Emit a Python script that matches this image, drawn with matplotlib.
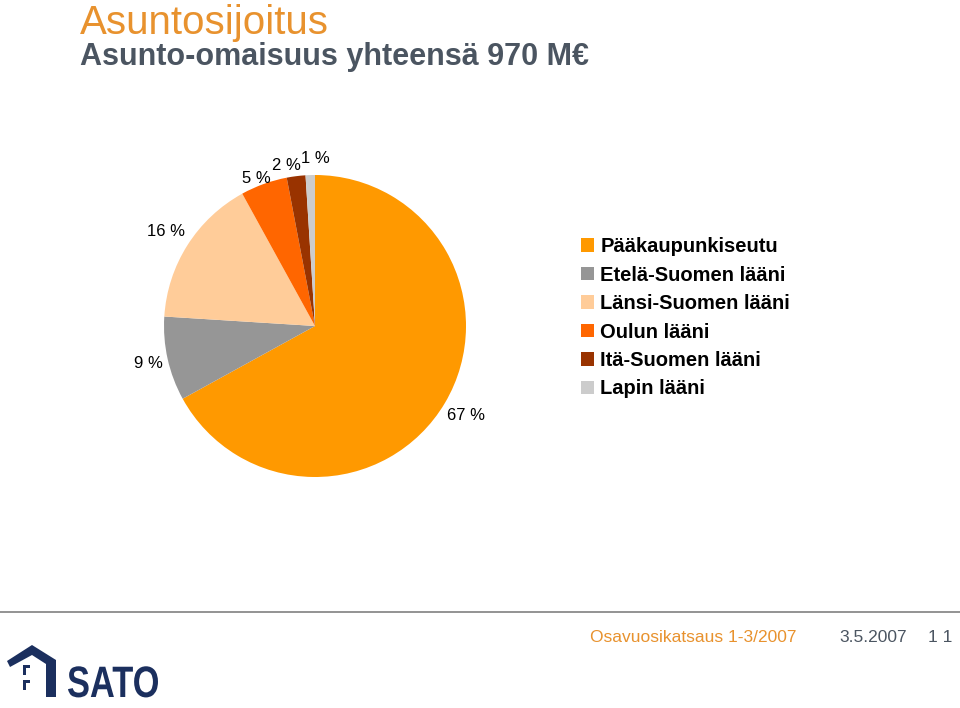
import numpy as np
import matplotlib
matplotlib.use("Agg")
import matplotlib.pyplot as plt
from matplotlib.patches import Patch, Polygon, Rectangle, PathPatch
from matplotlib.textpath import TextPath
from matplotlib.font_manager import FontProperties
from matplotlib.transforms import Affine2D

plt.rcParams['font.family'] = ['Liberation Sans', 'DejaVu Sans']

# ---- data ----
regions = ["Pääkaupunkiseutu", "Etelä-Suomen lääni", "Länsi-Suomen lääni",
           "Oulun lääni", "Itä-Suomen lääni", "Lapin lääni"]
shares = [67, 9, 16, 5, 2, 1]
colors = ["#FF9900", "#969696", "#FFCC99", "#FF6600", "#993300", "#CCCCCC"]
pct_labels = [f"{v} %" for v in shares]

NAVY = "#1b2f5e"
ORANGE_TXT = "#E8922E"
SLATE = "#4b5561"

W, H = 960, 708
fig = plt.figure(figsize=(W / 100, H / 100), dpi=100)

# ---- pie ----
cx, cy, r = 315, 326, 151
ax = fig.add_axes([(cx - r) / W, (H - cy - r) / H, 2 * r / W, 2 * r / H])
wedges, texts = ax.pie(shares, colors=colors, labels=pct_labels, startangle=90,
                       counterclock=False, labeldistance=1.15,
                       textprops=dict(fontsize=12, color="black"))
# label placement tweaks (distance, angle shift in degrees) like the original
label_dist = [1.16, 1.13, 1.17, 1.05, 1.08, 1.11]
label_dang = [0, 0, 0, 2, 3, -2]
for w, t, d, da in zip(wedges, texts, label_dist, label_dang):
    th = np.deg2rad((w.theta1 + w.theta2) / 2 + da)
    t.set_position((d * np.cos(th), d * np.sin(th)))
    t.set_ha("center")
    t.set_va("center")
ax.set_xlim(-1, 1)
ax.set_ylim(-1, 1)
ax.set_aspect("equal")
ax.axis("off")

# ---- legend ----
handles = [Patch(facecolor=c, edgecolor="none") for c in colors]
leg = fig.legend(handles, regions, loc="upper left",
                 bbox_to_anchor=(563 / W, 1 - 219 / H), frameon=False,
                 prop=dict(size=14.5, weight="bold"), handlelength=0.65,
                 handleheight=0.65, handletextpad=0.3, labelspacing=0.47)

# ---- titles ----
fig.text(80 / W, 1 - 34 / H, "Asuntosijoitus", fontsize=29, color=ORANGE_TXT,
         ha="left", va="baseline")
fig.text(80 / W, 1 - 65 / H, "Asunto-omaisuus yhteensä 970 M€", fontsize=22,
         weight="bold", color=SLATE, ha="left", va="baseline")

# ---- footer ----
fig.add_artist(plt.Line2D([0, 1], [1 - 612 / H, 1 - 612 / H], color="#808080",
                          lw=1.2, transform=fig.transFigure))
fig.text(797 / W, 1 - 637 / H, "Osavuosikatsaus 1-3/2007", fontsize=12.5,
         color=ORANGE_TXT, ha="right", va="center")
fig.text(907 / W, 1 - 637 / H, "3.5.2007", fontsize=12.5, color=SLATE,
         ha="right", va="center")
fig.text(952 / W, 1 - 637 / H, "1 1", fontsize=12.5, color=SLATE,
         ha="right", va="center")

# ---- logo ----
def px(x, y):
    return (x / W, 1 - y / H)

roof = [px(7, 661), px(32, 645), px(56, 660), px(56, 697), px(46, 697),
        px(46, 664), px(32, 655), px(10, 667)]
fig.add_artist(Polygon(roof, closed=True, facecolor=NAVY, edgecolor="none",
                       transform=fig.transFigure))
for y0 in (665, 680):
    fig.add_artist(Rectangle(px(23, y0 + 10), 3 / W, 10 / H, facecolor=NAVY,
                             edgecolor="none", transform=fig.transFigure))
    fig.add_artist(Rectangle(px(23, y0 + 3), 7 / W, 3 / H, facecolor=NAVY,
                             edgecolor="none", transform=fig.transFigure))
tp = TextPath((0, 0), "SATO", size=44,
              prop=FontProperties(family="Liberation Sans", weight="bold"))
ext = tp.get_extents()
sx = 90 / ext.width
tr = Affine2D().translate(-ext.x0, 0).scale(sx / W, 1 / H).translate(68 / W, 1 - 697 / H)
fig.add_artist(PathPatch(tr.transform_path(tp), facecolor=NAVY, edgecolor="none",
                         transform=fig.transFigure))

fig.savefig("out.png", dpi=100)
